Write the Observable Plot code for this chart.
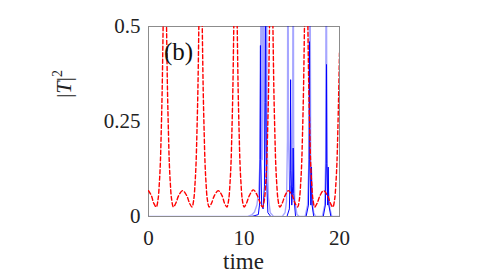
<!DOCTYPE html>
<html>
<head>
<meta charset="utf-8">
<script src="https://cdn.jsdelivr.net/npm/d3@7"></script>
<script src="https://cdn.jsdelivr.net/npm/@observablehq/plot@0.6"></script>
<style>
  html, body { margin: 0; padding: 0; background: #fff; }
</style>
</head>
<body>
<div id="chart"></div>
<script>
// Tick values / labels
const xTicks = [0, 10, 20];
const yTicks = [0, 0.25, 0.5];
const xLabel = "time";
const panelLabel = "(b)";

// Red dashed series (time, |T|^2)
const redT = [0, 0.3, 0.55, 0.81, 1.0, 1.14, 1.24, 1.33, 1.43, 1.52, 1.62, 1.71, 1.80, 1.90, 1.99, 2.09, 2.18, 2.28, 2.42, 2.61, 2.86, 3.16, 3.58,
  4.0, 4.3, 4.55, 4.74, 4.88, 4.98, 5.07, 5.17, 5.26, 5.36, 5.45, 5.54, 5.64, 5.73, 5.83, 5.92, 6.02, 6.16, 6.35, 6.6, 6.9, 7.3,
  7.7, 7.96, 8.21, 8.4, 8.54, 8.64, 8.73, 8.83, 8.92, 9.02, 9.11, 9.20, 9.30, 9.39, 9.49, 9.58, 9.68, 9.82, 10.01, 10.26, 10.56, 10.98,
  11.4, 11.7, 11.95, 12.14, 12.28, 12.38, 12.47, 12.57, 12.66, 12.76, 12.85, 12.94, 13.04, 13.13, 13.23, 13.32, 13.42, 13.56, 13.75, 14.0, 14.3, 14.65,
  15.05, 15.35, 15.61, 15.8, 15.94, 16.04, 16.13, 16.23, 16.32, 16.42, 16.51, 16.60, 16.70, 16.79, 16.89, 16.98, 17.08, 17.22, 17.41, 17.66, 17.96, 18.32,
  18.75, 19.05, 19.3, 19.49, 19.63, 19.73, 19.82, 19.92, 20.0];
const redV = [0.068, 0.055, 0.035, 0.025, 0.045, 0.09, 0.14, 0.22, 0.33, 0.48, 0.66, 0.75, 0.66, 0.48, 0.33, 0.22, 0.14, 0.09, 0.045, 0.025, 0.035, 0.055, 0.068,
  0.055, 0.035, 0.025, 0.045, 0.09, 0.14, 0.22, 0.33, 0.48, 0.66, 0.75, 0.66, 0.48, 0.33, 0.22, 0.14, 0.09, 0.045, 0.025, 0.035, 0.055, 0.068,
  0.055, 0.035, 0.025, 0.045, 0.09, 0.14, 0.22, 0.33, 0.48, 0.66, 0.75, 0.66, 0.48, 0.33, 0.22, 0.14, 0.09, 0.045, 0.025, 0.035, 0.055, 0.07,
  0.055, 0.035, 0.025, 0.045, 0.09, 0.14, 0.22, 0.33, 0.48, 0.66, 0.75, 0.66, 0.48, 0.33, 0.22, 0.14, 0.09, 0.045, 0.025, 0.035, 0.055, 0.068,
  0.055, 0.035, 0.025, 0.045, 0.09, 0.14, 0.22, 0.33, 0.48, 0.66, 0.75, 0.66, 0.48, 0.33, 0.22, 0.14, 0.09, 0.045, 0.025, 0.035, 0.055, 0.068,
  0.055, 0.035, 0.025, 0.045, 0.09, 0.14, 0.22, 0.33, 0.43];

// Dark blue solid series
const blueT = [8.6, 10.8, 11.5, 11.62, 11.68, 11.72, 11.76, 11.85, 12.0, 12.14, 12.2, 12.25, 12.3, 12.36, 12.5, 12.8,
  14.5, 14.75, 14.84, 14.88, 14.92, 15.0, 15.1, 15.15, 15.2, 15.4,
  16.5, 16.75, 16.82, 16.86, 16.9, 17.0, 17.07, 17.13, 17.3,
  18.3, 18.52, 18.6, 18.64, 18.68, 18.76, 18.82, 18.88, 19.1, 20];
const blueV = [0, 0, 0.005, 0.03, 0.15, 0.45, 0.15, 0.03, 0.02, 0.08, 0.3, 0.62, 0.3, 0.1, 0.01, 0,
  0, 0.02, 0.12, 0.36, 0.12, 0.03, 0.08, 0.18, 0.06, 0,
  0, 0.03, 0.15, 0.46, 0.15, 0.03, 0.13, 0.03, 0,
  0, 0.03, 0.14, 0.40, 0.14, 0.03, 0.13, 0.03, 0, 0];

// Light blue solid series
const lightT = [0, 10.4, 10.8, 11.1, 11.35, 11.55, 11.68, 11.76, 11.8, 11.85, 11.9, 11.97, 12.02, 12.08, 12.2, 12.3, 12.36, 12.42, 12.55, 12.75, 13.1,
  14.0, 14.3, 14.45, 14.55, 14.6, 14.66, 14.8, 14.9, 15.0, 15.1, 15.15, 15.2, 15.32, 15.55, 15.8,
  16.4, 16.65, 16.8, 16.9, 16.98, 17.1, 17.3, 17.5,
  18.2, 18.45, 18.55, 18.61, 18.68, 18.78, 18.88, 19.0, 19.2, 20];
const lightV = [0, 0, 0.004, 0.012, 0.03, 0.07, 0.15, 0.5, 0.9, 0.4, 0.15, 0.6, 0.9, 0.3, 0.1, 0.35, 0.8, 0.2, 0.05, 0.01, 0,
  0, 0.01, 0.04, 0.2, 0.9, 0.2, 0.06, 0.08, 0.06, 0.3, 0.9, 0.2, 0.04, 0.005, 0,
  0, 0.03, 0.15, 0.9, 0.15, 0.05, 0.01, 0,
  0, 0.03, 0.15, 0.9, 0.15, 0.08, 0.05, 0.02, 0, 0];

const red = redT.map((t, i) => ({t, v: redV[i]}));
const blue = blueT.map((t, i) => ({t, v: blueV[i]}));
const light = lightT.map((t, i) => ({t, v: lightV[i]}));

const W = 491, H = 275;
const mL = 148, mR = 152, mT = 26, mB = 59;

const plot = Plot.plot({
  width: W,
  height: H,
  marginLeft: mL,
  marginRight: mR,
  marginTop: mT,
  marginBottom: mB,
  style: {fontFamily: "'Liberation Serif', 'DejaVu Serif', serif", fontSize: "21px", background: "#fff", color: "#222", overflow: "visible"},
  x: {domain: [0, 20]},
  y: {domain: [0, 0.5]},
  marks: [
    Plot.frame({stroke: "#8c8c8c", strokeWidth: 1}),
    Plot.axisX({ticks: xTicks, tickSize: 0, tickPadding: 14, label: null, tickFormat: d => String(d), fontSize: 21}),
    Plot.axisY({ticks: yTicks, tickSize: 0, tickPadding: 8, label: null, tickFormat: d => String(d), fontSize: 21}),
    Plot.line(light, {x: "t", y: "v", stroke: "#0000ff", strokeOpacity: 0.35, strokeWidth: 1.4, clip: true}),
    Plot.line(blue, {x: "t", y: "v", stroke: "#0000ff", strokeWidth: 1, clip: true}),
    Plot.line(red, {x: "t", y: "v", stroke: "#ff0000", strokeWidth: 1.4, strokeDasharray: "4,2.5", curve: "catmull-rom", clip: true})
  ]
});

document.getElementById("chart").appendChild(plot);

const svg = d3.select(plot);
const serif = "'Liberation Serif', 'DejaVu Serif', serif";

// x label
svg.append("text")
  .attr("x", mL + (W - mL - mR) / 2)
  .attr("y", 269)
  .attr("text-anchor", "middle")
  .attr("font-family", serif)
  .attr("font-size", 23)
  .attr("fill", "#222")
  .text(xLabel);

// y label |T|^2 with italic T
const yl = svg.append("text")
  .attr("transform", "translate(71,84) rotate(-90)")
  .attr("text-anchor", "middle")
  .attr("font-family", serif)
  .attr("font-size", 22)
  .attr("fill", "#222");
yl.append("tspan").text("|");
yl.append("tspan").attr("font-style", "italic").text("T");
yl.append("tspan").text("|");
yl.append("tspan").attr("font-size", 14).attr("dy", -9).text("2");

// panel label
svg.append("text")
  .attr("x", 164)
  .attr("y", 60)
  .attr("text-anchor", "start")
  .attr("font-family", serif)
  .attr("font-size", 25)
  .attr("fill", "#111")
  .text(panelLabel);
</script>
</body>
</html>
